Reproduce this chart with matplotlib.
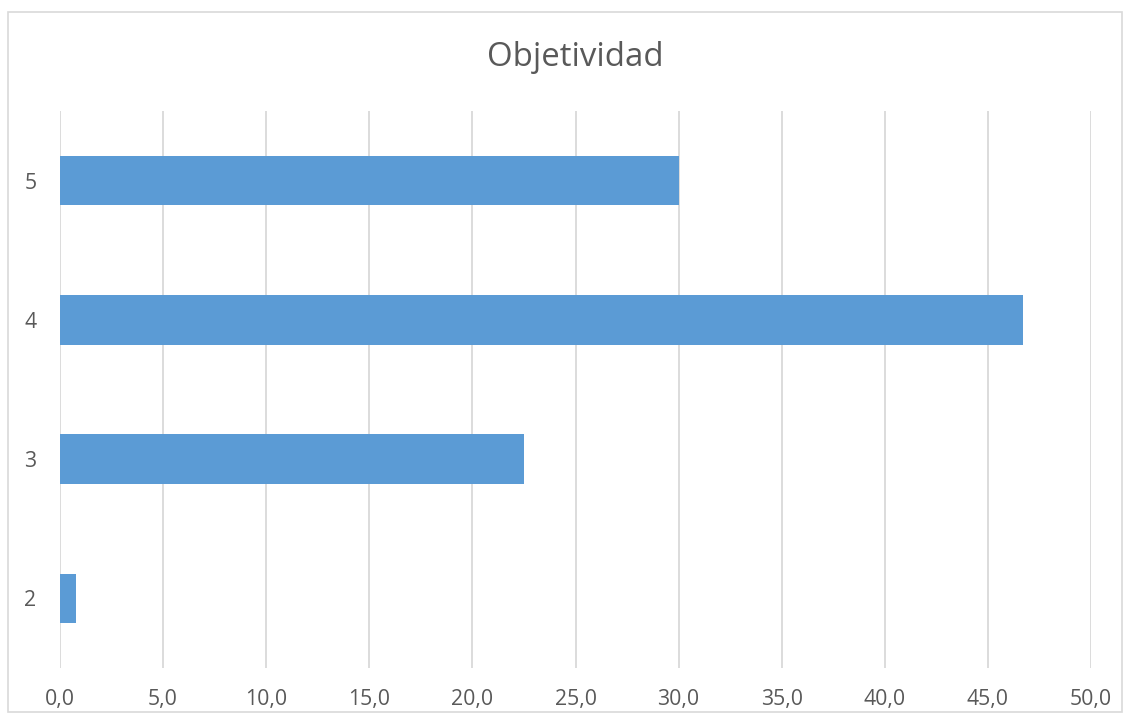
import matplotlib.pyplot as plt
from matplotlib.patches import Rectangle

# data
categories = ['2', '3', '4', '5']
values = [0.8, 22.5, 46.7, 30.0]
x_ticks = [0, 5, 10, 15, 20, 25, 30, 35, 40, 45, 50]

text_color = '#595959'
bar_color = '#5b9bd5'
grid_color = '#d9d9d9'

plt.rcParams['font.family'] = ['Open Sans', 'DejaVu Sans']

fig = plt.figure(figsize=(11.31, 7.24), dpi=100)
ax = fig.add_axes([60 / 1131, 1 - 668 / 724, 1031 / 1131, 557 / 724])

# outer chart border
fig.patches.append(Rectangle((8 / 1131, 1 - 712 / 724), 1114 / 1131, 700 / 724,
                             transform=fig.transFigure, fill=False,
                             edgecolor='#d9d9d9', linewidth=1.2))

ax.barh(range(len(categories)), values, height=0.355, color=bar_color, zorder=3)

ax.set_xlim(0, 50)
ax.set_ylim(-0.5, len(categories) - 0.5)
ax.set_xticks(x_ticks)
ax.set_xticklabels([f'{t:.1f}'.replace('.', ',') for t in x_ticks])
ax.set_yticks(range(len(categories)))
ax.set_yticklabels(categories)

ax.grid(axis='x', color=grid_color, linewidth=1.3, zorder=0)
for s in ax.spines.values():
    s.set_visible(False)
ax.tick_params(axis='both', length=0, labelsize=15.3, labelcolor=text_color)
ax.tick_params(axis='x', pad=15)
ax.tick_params(axis='y', pad=17)

fig.text(575 / 1131, 1 - 57 / 724, 'Objetividad', ha='center', va='center',
         fontsize=23.8, color=text_color)

fig.savefig('out.png', dpi=100)
